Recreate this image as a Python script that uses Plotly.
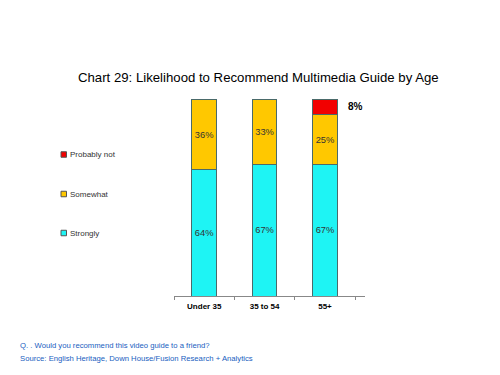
import plotly.graph_objects as go

categories = ["Under 35", "35 to 54", "55+"]
strongly = [64, 67, 67]
somewhat = [36, 33, 25]
probably_not = [None, None, 8]
series_names = ["Strongly", "Somewhat", "Probably not"]
colors = ["#1EF4F4", "#FFC800", "#F20000"]

FONT = "Liberation Sans, Arial, sans-serif"
OFF = 8  # page body offset
fig = go.Figure()
for name, vals, col in zip(series_names, [strongly, somewhat, probably_not], colors):
    fig.add_trace(go.Bar(
        x=categories, y=vals, name=name,
        marker=dict(color=col, line=dict(color="#4a6a6a", width=1)),
        text=[f"{v}%" if (v is not None and name != "Probably not") else "" for v in vals],
        textposition="inside", insidetextanchor="middle", textangle=0,
        textfont=dict(family=FONT, size=10, color="#333333"),
        showlegend=False,
    ))

base = [s + w for s, w in zip(strongly, somewhat)]
for i, v in enumerate(probably_not):
    if v is not None:
        fig.add_annotation(x=categories[i], y=base[i] + v / 2, text=f"<b>{v}%</b>",
                           showarrow=False, xshift=21, xanchor="left",
                           font=dict(family=FONT, size=10, color="#000000"))

L, R, T, B = 174 - OFF, 135 + OFF, 99 - OFF, 79 + OFF
W = 500 - L - R
H = 375 - T - B
def px2x(px): return (px - OFF - L) / W
def py2y(py): return (375 - B - (py - OFF)) / H
legend_items = [("Probably not", colors[2], 154.5), ("Somewhat", colors[1], 194), ("Strongly", colors[0], 233)]
for name, col, yc in legend_items:
    fig.add_shape(type="rect", xref="paper", yref="paper",
                  x0=px2x(61), x1=px2x(66.5), y0=py2y(yc + 2.75), y1=py2y(yc - 2.75),
                  fillcolor=col, line=dict(color="#555555", width=1))
    fig.add_annotation(xref="paper", yref="paper", x=px2x(67.5), y=py2y(yc), text=name,
                       showarrow=False, xanchor="left", yanchor="middle",
                       font=dict(family=FONT, size=8, color="#333333"))

fig.add_annotation(xref="paper", yref="paper", x=px2x(258), y=py2y(77),
                   text="Chart 29: Likelihood to Recommend Multimedia Guide by Age",
                   showarrow=False, xanchor="center", yanchor="middle",
                   font=dict(family=FONT, size=13.2, color="#000000"))
fig.add_annotation(xref="paper", yref="paper", x=px2x(18), y=py2y(345),
                   text="Q. . Would you recommend this video guide to a friend?",
                   showarrow=False, xanchor="left", yanchor="middle",
                   font=dict(family=FONT, size=7.7, color="#2060C0"))
fig.add_annotation(xref="paper", yref="paper", x=px2x(18), y=py2y(358),
                   text="Source: English Heritage, Down House/Fusion Research + Analytics",
                   showarrow=False, xanchor="left", yanchor="middle",
                   font=dict(family=FONT, size=7.7, color="#2060C0"))

fig.update_layout(
    width=500, height=375, barmode="stack", bargap=0.59,
    margin=dict(l=L, r=R, t=T, b=B),
    paper_bgcolor="white", plot_bgcolor="white",
    uniformtext=dict(minsize=6, mode="show"),
    xaxis=dict(type="category", showline=True, linecolor="#888888", linewidth=1,
               ticks="outside", tickson="boundaries", ticklen=3, tickcolor="#888888",
               showgrid=False, tickfont=dict(family=FONT, size=8, color="#000000"),
               ticklabelstandoff=2),
    yaxis=dict(range=[0, 100], visible=False, showgrid=False),
)
fig.update_xaxes(ticktext=[f"<b>{c}</b>" for c in categories], tickvals=categories)
fig.write_html("out.html")
